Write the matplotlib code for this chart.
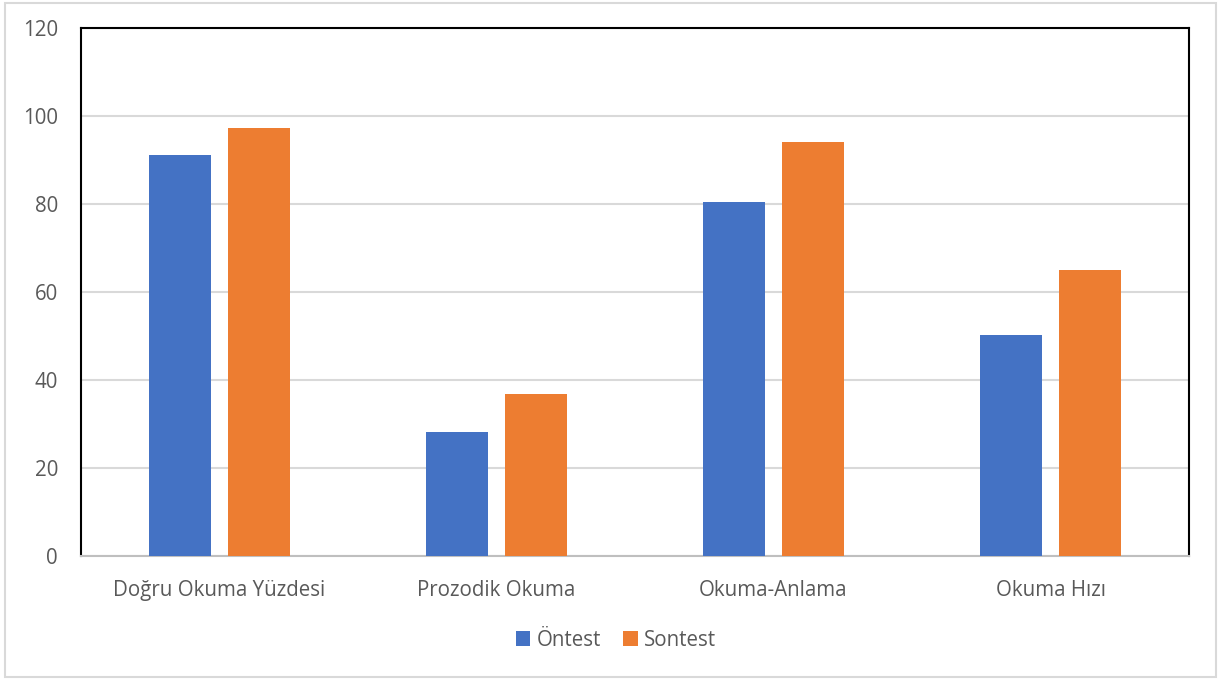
import matplotlib
matplotlib.use("Agg")
import matplotlib.pyplot as plt
import numpy as np
from matplotlib.patches import Rectangle

categories = ["Doğru Okuma Yüzdesi", "Prozodik Okuma", "Okuma-Anlama", "Okuma Hızı"]
series_names = ["Öntest", "Sontest"]
ontest = [91.1, 28.2, 80.5, 50.2]
sontest = [97.3, 36.8, 94.1, 65.0]
yticks = [0, 20, 40, 60, 80, 100, 120]

plt.rcParams['font.family'] = ['Open Sans', 'DejaVu Sans']

fig = plt.figure(figsize=(12.19, 6.8), dpi=100)
ax = fig.add_axes([81/1219, 1-556/680, (1189-81)/1219, (556-28)/680])

x = np.arange(len(categories))
w = 0.224
off = 0.1426
ax.bar(x - off, ontest, width=w, color="#4472C4", label=series_names[0], zorder=3)
ax.bar(x + off, sontest, width=w, color="#ED7D31", label=series_names[1], zorder=3)

ax.set_xlim(-0.5, len(categories) - 0.5)
ax.set_ylim(0, 120)
ax.set_yticks(yticks)
ax.set_xticks(x)
ax.set_xticklabels(categories)
ax.yaxis.grid(True, color="#d9d9d9", linewidth=1.5, zorder=0)
ax.tick_params(axis='both', length=0, labelsize=14.8, colors="#595959")
ax.tick_params(axis='y', pad=16.5)
ax.tick_params(axis='x', pad=17)
for s in ["left", "top", "right"]:
    ax.spines[s].set_color("black")
    ax.spines[s].set_linewidth(1.5)
ax.spines["bottom"].set_color("#bfbfbf")
ax.spines["bottom"].set_linewidth(1.5)

leg = fig.legend(loc="center", bbox_to_anchor=(616/1219, 1-640/680), ncol=2, frameon=False,
                 fontsize=14.8, handlelength=0.7, handleheight=0.7, handletextpad=0.3,
                 columnspacing=1.1)
for t in leg.get_texts():
    t.set_color("#595959")

fig.patches.append(Rectangle((5/1219, 3/680), 1211/1219, 674/680, transform=fig.transFigure,
                             fill=False, edgecolor="#d9d9d9", linewidth=1.5))

fig.savefig("out.png", dpi=100, facecolor="white")
